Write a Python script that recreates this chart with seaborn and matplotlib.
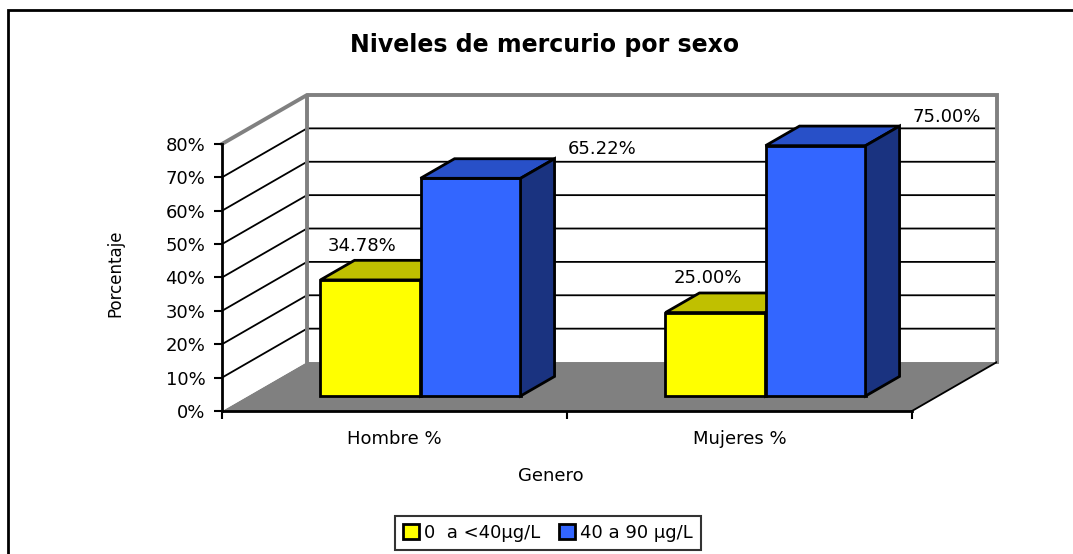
import matplotlib
matplotlib.use("Agg")
import matplotlib.pyplot as plt
import numpy as np
import pandas as pd
import seaborn as sns
from matplotlib.patches import Polygon, Patch, Rectangle

# Datos del grafico
generos = ["Hombre %", "Mujeres %"]
niveles = ["0  a <40µg/L", "40 a 90 µg/L"]
pct_bajo = [34.78, 25.00]
pct_alto = [65.22, 75.00]
y_ticks = [0, 10, 20, 30, 40, 50, 60, 70, 80]

df = pd.DataFrame({
    "genero": generos * 2,
    "nivel": [niveles[0]] * len(generos) + [niveles[1]] * len(generos),
    "pct": pct_bajo + pct_alto,
})

# Colores (frente, tapa, lateral) por serie
col_frente = ["#FFFF00", "#3366FF"]
col_tapa = ["#C0C000", "#2850C8"]
col_lado = ["#808000", "#1A3380"]
gris = "#808080"

W, H = 1073, 554
DX, DY = 0.2464, 14.67   # desplazamiento de la pared del fondo
D0, DD = 0.306, 0.40     # posicion y profundidad de las barras
YMAX = y_ticks[-1]
lab_off = [(-0.023, 10.3), (0.38, 8.7)]
FS = 13

fig = plt.figure(figsize=(W / 100, H / 100), dpi=100)
ax = fig.add_axes([222 / W, 1 - 411 / H, 775 / W, 316 / H])
ax.set_facecolor("none")

x0, x1 = -0.5, len(generos) - 0.5

# Suelo y paredes
ax.add_patch(Polygon([(x0, 0), (x1, 0), (x1 + DX, DY), (x0 + DX, DY)],
                     closed=True, fc=gris, ec="none", zorder=0))
ax.add_patch(Polygon([(x0, 0), (x0 + DX, DY), (x0 + DX, YMAX + DY), (x0, YMAX)],
                     closed=True, fc="white", ec="none", zorder=0))
for v in y_ticks[1:-1]:
    ax.plot([x0, x0 + DX, x1 + DX], [v, v + DY, v + DY], color="black", lw=1.3, zorder=1)
ax.plot([x0, x0 + DX, x1 + DX, x1 + DX], [YMAX, YMAX + DY, YMAX + DY, DY],
        color=gris, lw=2.8, zorder=1, clip_on=False, solid_joinstyle="miter")
ax.plot([x0 + DX, x0 + DX], [DY, YMAX + DY], color=gris, lw=2.8, zorder=1)
ax.plot([x1, x1 + DX], [0, DY], color="black", lw=1.3, zorder=1)

# Barras
sns.barplot(data=df, x="genero", y="pct", hue="nivel", hue_order=niveles,
            palette=col_frente, saturation=1, width=0.58, errorbar=None,
            edgecolor="black", linewidth=2, legend=False, ax=ax)

base = D0 * DY
for k, cont in enumerate(ax.containers):
    z = 3 + k
    for bar in cont:
        x, w, h = bar.get_x(), bar.get_width(), bar.get_height()
        xf = x + D0 * DX
        bar.set_x(xf)
        bar.set_y(base)
        bar.set_zorder(z)
        bar.set_joinstyle("miter")
        top = base + h
        ax.add_patch(Polygon([(xf, top), (xf + w, top), (xf + w + DD * DX, top + DD * DY),
                              (xf + DD * DX, top + DD * DY)], closed=True,
                             fc=col_tapa[k], ec="black", lw=2, zorder=z, joinstyle="miter"))
        ax.add_patch(Polygon([(xf + w, base), (xf + w + DD * DX, base + DD * DY),
                              (xf + w + DD * DX, top + DD * DY), (xf + w, top)], closed=True,
                             fc=col_lado[k], ec="black", lw=2, zorder=z, joinstyle="miter"))
        ax.text(xf + w / 2 + lab_off[k][0], top + lab_off[k][1], f"{h:.2f}%",
                ha="center", va="center", fontsize=FS, zorder=6)

# Ejes
ax.set_xlim(x0, x1 + DX)
ax.set_ylim(0, YMAX + DY)
ax.spines["top"].set_visible(False)
ax.spines["right"].set_visible(False)
ax.spines["left"].set_bounds(0, YMAX)
ax.spines["bottom"].set_bounds(x0, x1)
ax.spines["left"].set_linewidth(2)
ax.spines["bottom"].set_linewidth(2)
ax.set_yticks(y_ticks, [f"{v}%" for v in y_ticks])
ax.set_xticks(range(len(generos)), generos)
ax.set_xticks(np.arange(x0, x1 + 0.01, 1), minor=True)
ax.tick_params(axis="x", which="major", length=0, pad=14, labelsize=FS)
ax.tick_params(axis="x", which="minor", length=6, width=1.5)
ax.tick_params(axis="y", length=6, width=1.5, labelsize=FS, pad=6)
ax.set_xlabel("Genero", fontsize=FS)
ax.xaxis.set_label_coords((551 - 222) / 775, (411 - 467) / 316)
ax.set_ylabel("Porcentaje", fontsize=12)
ax.yaxis.set_label_coords((124 - 222) / 775, (411 - 273) / 316)

# Titulo, leyenda y marco
fig.text(545 / W, 1 - 52 / H, "Niveles de mercurio por sexo", ha="center",
         va="baseline", fontsize=17, fontweight="bold")
handles = [Patch(fc=col_frente[i], ec="black", lw=2, label=niveles[i]) for i in range(2)]
leg = fig.legend(handles=handles, loc="center", bbox_to_anchor=(548 / W, 1 - 533 / H),
                 ncol=2, fontsize=FS, frameon=True, fancybox=False, edgecolor="black",
                 handlelength=0.9, handleheight=0.9, handletextpad=0.3, columnspacing=1.0,
                 borderpad=0.45, borderaxespad=0)
leg.get_frame().set_linewidth(1.5)
fig.patches.append(Rectangle((8 / W, -0.1), 1.2, (H - 10) / H + 0.1, transform=fig.transFigure,
                             fill=False, ec="black", lw=2))

plt.savefig("out.png", dpi=100)
